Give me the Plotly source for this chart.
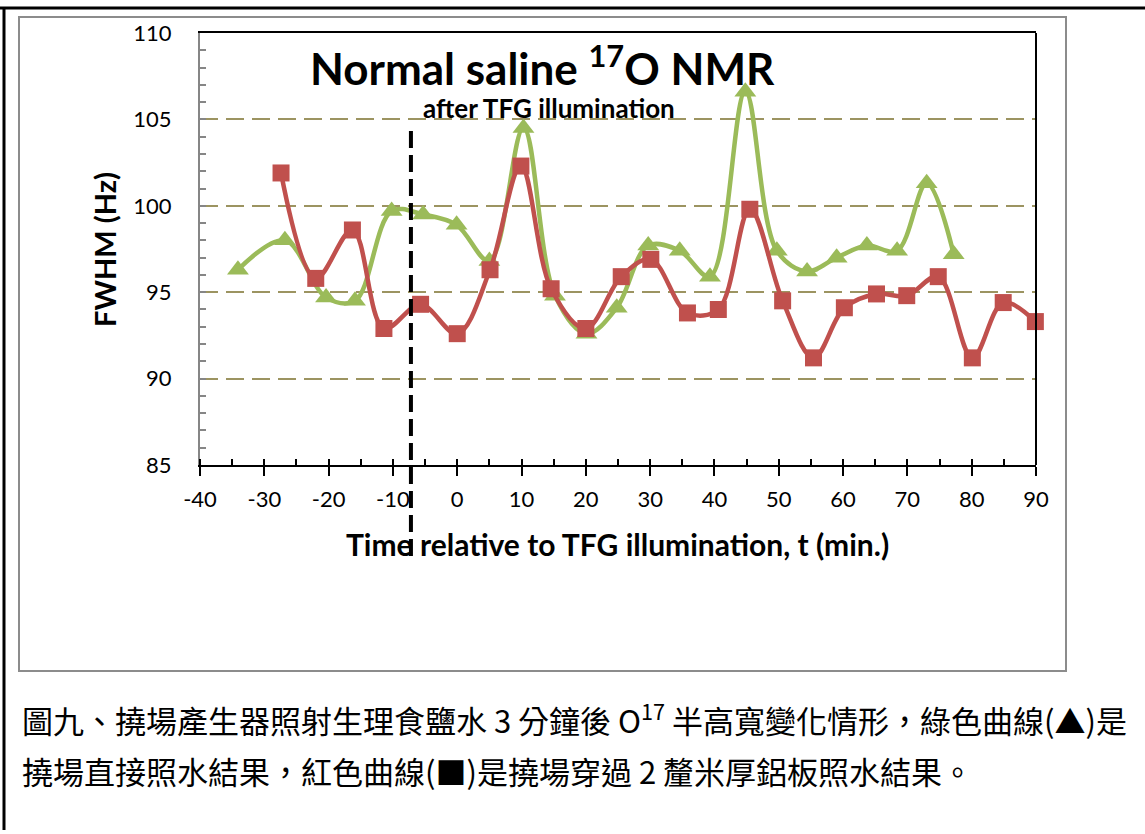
import plotly.graph_objects as go

# Data
green_t = [-34.1, -26.8, -20.4, -15.9, -10.2, -5.3, -0.1, 5.0, 10.3, 15.2, 20.1, 24.8,
           29.7, 34.6, 39.3, 44.8, 49.7, 54.4, 59.0, 63.7, 68.4, 73.0, 77.2]
green_fwhm = [96.3, 98.0, 94.7, 94.5, 99.7, 99.5, 98.9, 96.8, 104.5, 94.8, 92.6, 94.1,
              97.7, 97.4, 95.9, 106.6, 97.4, 96.2, 97.0, 97.7, 97.4, 101.3, 97.2]

red_t = [-27.4, -22.0, -16.3, -11.4, -5.7, 0.0, 5.1, 9.9, 14.6, 20.0, 25.5, 30.1,
         35.8, 40.6, 45.5, 50.6, 55.4, 60.2, 65.2, 69.9, 74.8, 80.1, 84.9, 89.9]
red_fwhm = [101.9, 95.8, 98.6, 92.9, 94.3, 92.6, 96.3, 102.3, 95.2, 92.9, 95.9, 96.9,
            93.8, 94.0, 99.8, 94.5, 91.2, 94.1, 94.9, 94.8, 95.9, 91.2, 94.4, 93.3]

illum_t = -7.2

x_range = [-40, 90]
y_range = [85, 110]
x_tickvals = [-40, -30, -20, -10, 0, 10, 20, 30, 40, 50, 60, 70, 80, 90]
x_ticktext = ["-40", "-30", "-20", "-10", "0", "10", "20", "30", "40", "50", "60", "70", "80", "90"]

title_text = "<b>Normal saline <sup>17</sup>O NMR</b>"
subtitle_text = "<b>after TFG illumination</b>"
x_title = "<b>Time relative to TFG illumination, t (min.)</b>"
y_title = "<b>FWHM (Hz)</b>"
caption1 = "圖九、撓場產生器照射生理食鹽水 3 分鐘後 O<sup>17</sup> 半高寬變化情形，綠色曲線(▲)是"
caption2 = "撓場直接照水結果，紅色曲線(■)是撓場穿過 2 釐米厚鋁板照水結果。"

W, H = 1145, 834
L, R, T, B = 200, 109, 33, 369
PW, PH = W - L - R, H - T - B


def px(xp):
    return (xp - L) / PW


def py(yp):
    return (H - B - yp) / PH


fig = go.Figure()
fig.add_trace(go.Scatter(
    x=green_t, y=green_fwhm, mode="lines+markers",
    line=dict(color="#9BBB59", width=4.5, shape="spline", smoothing=1),
    marker=dict(symbol="triangle-up", size=19, color="#9BBB59"),
    cliponaxis=False, showlegend=False))
fig.add_trace(go.Scatter(
    x=red_t, y=red_fwhm, mode="lines+markers",
    line=dict(color="#C0504D", width=4.5, shape="spline", smoothing=1),
    marker=dict(symbol="square", size=17, color="#C0504D"),
    cliponaxis=False, showlegend=False))

font_main = "Lato, 'Open Sans', sans-serif"

fig.update_layout(
    width=W, height=H,
    margin=dict(l=L, r=R, t=T, b=B),
    paper_bgcolor="white", plot_bgcolor="white",
    font=dict(family=font_main, color="black"),
    xaxis=dict(range=x_range, tickvals=x_tickvals, ticktext=x_ticktext,
               showgrid=False, zeroline=False,
               showline=True, linecolor="black", linewidth=2, mirror=True,
               ticks="outside", ticklen=9, tickwidth=2, tickcolor="black",
               minor=dict(dtick=5, tick0=0, ticks="inside", ticklen=6, tickwidth=2,
                          tickcolor="black"),
               tickfont=dict(size=22, family=font_main, color="black"),
               ticklabelstandoff=5),
    yaxis=dict(range=y_range, dtick=5, tick0=85, zeroline=False,
               showgrid=True, gridcolor="#9C9461", gridwidth=2, griddash="18px,8px",
               showline=True, linecolor="#868686", linewidth=2,
               ticks="inside", ticklen=6, tickwidth=2, tickcolor="#868686",
               minor=dict(dtick=1, ticks="inside", ticklen=6, tickwidth=2,
                          tickcolor="#868686", showgrid=False),
               tickfont=dict(size=22, family=font_main, color="black"),
               ticklabelstandoff=22),
)

shapes = [
    dict(type="line", xref="paper", yref="paper", x0=1, x1=1, y0=0, y1=1,
         line=dict(color="black", width=2)),
    dict(type="line", xref="x", yref="paper", x0=illum_t, x1=illum_t,
         y0=py(131), y1=py(560), line=dict(color="black", width=4, dash="17px,7px")),
    dict(type="rect", xref="paper", yref="paper", x0=px(19), x1=px(1066),
         y0=py(671), y1=py(17), line=dict(color="#8C8C8C", width=2), layer="below"),
    dict(type="line", xref="paper", yref="paper", x0=px(0), x1=px(1145),
         y0=py(8), y1=py(8), line=dict(color="black", width=3)),
    dict(type="line", xref="paper", yref="paper", x0=px(4), x1=px(4),
         y0=py(8), y1=py(830), line=dict(color="black", width=3)),
]
fig.update_layout(shapes=shapes)

annotations = [
    dict(text=title_text, x=px(542), y=py(66), xref="paper", yref="paper",
         showarrow=False, xanchor="center", yanchor="middle",
         font=dict(size=44, family=font_main, color="black")),
    dict(text=subtitle_text, x=px(549), y=py(108), xref="paper", yref="paper",
         showarrow=False, xanchor="center", yanchor="middle",
         font=dict(size=26, family=font_main, color="black")),
    dict(text=x_title, x=px(617), y=py(544), xref="paper", yref="paper",
         showarrow=False, xanchor="center", yanchor="middle",
         font=dict(size=30, family=font_main, color="black")),
    dict(text=y_title, x=px(104), y=py(250), xref="paper", yref="paper",
         showarrow=False, xanchor="center", yanchor="middle", textangle=-90,
         font=dict(size=29, family=font_main, color="black")),
    dict(text=caption1, x=px(20), y=py(718), xref="paper", yref="paper",
         showarrow=False, xanchor="left", yanchor="middle",
         font=dict(size=31, family="'Noto Sans CJK TC', sans-serif", color="black")),
    dict(text=caption2, x=px(20), y=py(770), xref="paper", yref="paper",
         showarrow=False, xanchor="left", yanchor="middle",
         font=dict(size=31, family="'Noto Sans CJK TC', sans-serif", color="black")),
]
fig.update_layout(annotations=annotations)

fig.write_html("out.html", config={"displayModeBar": False},
               post_script="document.body.style.margin='0';")
